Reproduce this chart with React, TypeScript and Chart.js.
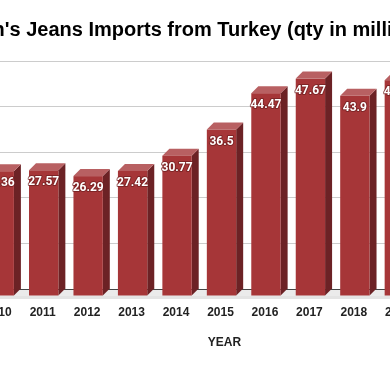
import { useEffect, useRef } from "react";
import { Chart, registerables } from "chart.js";

Chart.register(...registerables);

// ---- data ----
const years: number[] = [2010, 2011, 2012, 2013, 2014, 2015, 2016, 2017, 2018, 2019];
const imports: number[] = [27.36, 27.57, 26.29, 27.42, 30.77, 36.5, 44.47, 47.67, 43.9, 47.32];
const yTickStep = 10;
const yMin = 0;
const yMax = 50;
const chartTitle = "Britain's Jeans Imports from Turkey (qty in million)";
const xAxisTitle = "YEAR";

// ---- style ----
const DEPTH = 7;
const FRONT = "#a63638";
const TOPC = "#b86062";
const SIDE = "#6c2225";
const CANVAS_W = 600;
const CANVAS_H = 371;
const SHIFT = 120;

const bars3d = {
  id: "bars3d",
  beforeDatasetsDraw(chart: any) {
    const { ctx, chartArea } = chart;
    const base = chart.scales.y.getPixelForValue(0);
    ctx.save();
    ctx.fillStyle = "#ebebeb";
    ctx.beginPath();
    ctx.moveTo(chartArea.left, base + 1);
    ctx.lineTo(chartArea.right, base + 1);
    ctx.lineTo(chartArea.right - DEPTH, base + DEPTH);
    ctx.lineTo(chartArea.left - DEPTH, base + DEPTH);
    ctx.closePath();
    ctx.fill();
    ctx.fillStyle = "#e4e4e4";
    ctx.fillRect(chartArea.left - DEPTH, base + DEPTH, chartArea.right - chartArea.left, 3);
    ctx.restore();
  },
  afterDatasetsDraw(chart: any) {
    const { ctx } = chart;
    const meta = chart.getDatasetMeta(0);
    const values = chart.data.datasets[0].data;
    ctx.save();
    meta.data.forEach((el: any, i: number) => {
      const { x, y, base, width } = el.getProps(["x", "y", "base", "width"], true);
      const l = x - width / 2;
      const r = x + width / 2;
      // side
      ctx.fillStyle = SIDE;
      ctx.beginPath();
      ctx.moveTo(r - DEPTH, y + DEPTH);
      ctx.lineTo(r, y);
      ctx.lineTo(r, base);
      ctx.lineTo(r - DEPTH, base + DEPTH);
      ctx.closePath();
      ctx.fill();
      // top
      ctx.fillStyle = TOPC;
      ctx.beginPath();
      ctx.moveTo(l - DEPTH, y + DEPTH);
      ctx.lineTo(l, y);
      ctx.lineTo(r, y);
      ctx.lineTo(r - DEPTH, y + DEPTH);
      ctx.closePath();
      ctx.fill();
      // front
      ctx.fillStyle = FRONT;
      ctx.fillRect(l - DEPTH, y + DEPTH, width, base - y);
      // label
      const v = values[i];
      const label = String(v.y !== undefined ? v.y : v);
      ctx.font = "bold 12px Roboto";
      ctx.textAlign = "center";
      ctx.textBaseline = "middle";
      ctx.lineJoin = "round";
      ctx.lineWidth = 2;
      ctx.strokeStyle = "rgba(110,30,32,0.7)";
      ctx.strokeText(label, x - DEPTH, y + DEPTH + 12);
      ctx.fillStyle = "#ffffff";
      ctx.fillText(label, x - DEPTH, y + DEPTH + 12);
    });
    ctx.restore();
  },
};

export default function App() {
  const ref = useRef<HTMLCanvasElement>(null);

  useEffect(() => {
    const canvas = ref.current;
    if (!canvas) return;
    const font = { family: "'Liberation Sans', Arial, sans-serif", size: 12, weight: "bold" as const };
    const chart = new Chart(canvas, {
      type: "bar",
      data: {
        datasets: [
          {
            label: "Imports",
            data: years.map((yr, i) => ({ x: yr, y: imports[i] })),
            backgroundColor: "rgba(0,0,0,0)",
            borderWidth: 0,
            categoryPercentage: 0.66,
            barPercentage: 1,
          },
        ],
      },
      options: {
        animation: false,
        responsive: false,
        devicePixelRatio: 1,
        layout: { padding: { left: 20, right: 15, top: 0, bottom: 0 } },
        plugins: {
          legend: { display: false },
          tooltip: { enabled: false },
          title: {
            display: true,
            text: chartTitle,
            color: "#000000",
            font: { family: "'Liberation Sans', Arial, sans-serif", size: 20, weight: "bold" },
            padding: { top: 18.5, bottom: 18.5 },
          },
        },
        scales: {
          x: {
            type: "linear",
            min: 2009.5,
            max: 2020.32,
            bounds: "data",
            offset: false,
            grid: { display: false, drawTicks: false },
            border: { display: false },
            afterBuildTicks: (s: any) => {
              s.ticks = years.map((v) => ({ value: v }));
            },
            ticks: {
              autoSkip: false,
              maxRotation: 0,
              labelOffset: -8,
              padding: 16,
              color: "#222222",
              font,
              callback: (v: any) => String(v),
            },
            title: {
              display: true,
              text: xAxisTitle,
              color: "#222222",
              font,
              padding: { top: 0, bottom: 21 },
            },
            afterFit: (s: any) => {
              s.height = 82;
            },
          },
          y: {
            min: yMin,
            max: yMax,
            grid: {
              color: (c: any) => (c.tick && c.tick.value === 0 ? "#444444" : "#cccccc"),
              drawTicks: false,
            },
            border: { display: false },
            ticks: { stepSize: yTickStep, padding: 8, color: "#444444", font },
            afterFit: (s: any) => {
              s.width = 84;
            },
          },
        },
      },
      plugins: [bars3d],
    });
    return () => chart.destroy();
  }, []);

  return (
    <div
      style={{
        position: "fixed",
        left: 0,
        top: 0,
        width: 390,
        height: 371,
        overflow: "hidden",
        background: "#ffffff",
      }}
    >
      <canvas
        ref={ref}
        width={CANVAS_W}
        height={CANVAS_H}
        style={{ position: "absolute", left: -SHIFT, top: 0, width: CANVAS_W, height: CANVAS_H }}
      />
    </div>
  );
}
